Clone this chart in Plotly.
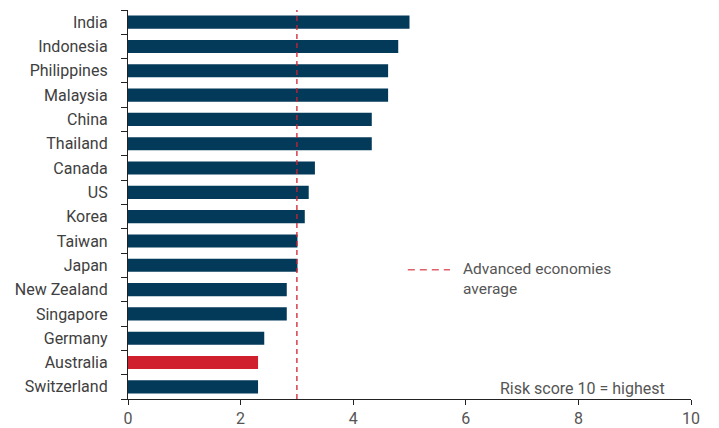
import plotly.graph_objects as go

countries = ["India", "Indonesia", "Philippines", "Malaysia", "China", "Thailand",
             "Canada", "US", "Korea", "Taiwan", "Japan", "New Zealand",
             "Singapore", "Germany", "Australia", "Switzerland"]
scores = [5.0, 4.8, 4.62, 4.62, 4.33, 4.33, 3.32, 3.21, 3.14, 3.01, 3.01,
          2.82, 2.82, 2.42, 2.31, 2.31]
highlight = "Australia"
advanced_avg = 3.0
x_ticks = [0, 2, 4, 6, 8, 10]
legend_text = "Advanced economies<br>average"
note = "Risk score 10 = highest"

NAVY = "#033a5a"
RED = "#d0202e"
colors = [RED if c == highlight else NAVY for c in countries]

fig = go.Figure()
fig.add_trace(go.Bar(
    x=scores, y=countries, orientation="h",
    marker=dict(color=colors, line=dict(width=0)),
    showlegend=False, hoverinfo="x+y",
))
fig.add_trace(go.Scatter(
    x=[advanced_avg, advanced_avg], y=[0, 1], yaxis="y2", mode="lines",
    line=dict(color=RED, width=1.3, dash="5px,4px"),
    name="Advanced economies average", showlegend=False,
))

font_family = "Roboto, 'DejaVu Sans', sans-serif"
TXT = "#404040"
GREY = "#555555"

# manual legend (paper coordinates)
lx0, lx1, ly = 0.497, 0.572, 0.332
fig.add_shape(type="line", xref="paper", yref="paper", x0=lx0, x1=lx1, y0=ly, y1=ly,
              line=dict(color="#e0606a", width=1.5, dash="7px,5px"))
annotations = [
    dict(text=legend_text, xref="paper", yref="paper", x=0.5915, y=ly + 0.03,
         xanchor="left", yanchor="top", align="left", showarrow=False,
         font=dict(size=15.5, color=GREY)),
    dict(text=note, xref="paper", yref="paper", x=0.958, y=0.026,
         xanchor="right", yanchor="middle", showarrow=False,
         font=dict(size=16, color=GREY)),
]

fig.update_layout(
    width=719, height=428,
    margin=dict(l=128, r=28, t=10, b=29, autoexpand=False),
    plot_bgcolor="white", paper_bgcolor="white",
    font=dict(family=font_family, size=16, color=TXT),
    bargap=0.46,
    xaxis=dict(range=[0, 10], tickvals=x_ticks, showgrid=False, zeroline=False,
               showline=True, linecolor="#222", linewidth=1.2,
               ticks="outside", ticklen=5, tickcolor="#222",
               tickfont=dict(size=16, color=GREY), ticklabelstandoff=0,
               automargin=False, fixedrange=True),
    yaxis=dict(categoryorder="array", categoryarray=countries[::-1],
               showgrid=False, zeroline=False, showline=True,
               linecolor="#222", linewidth=1.2, ticks="outside", ticklen=6,
               tickcolor="#222", tickson="boundaries", automargin=False,
               tickfont=dict(size=16, color=TXT), ticklabelstandoff=16),
    yaxis2=dict(range=[0, 1], overlaying="y", visible=False),
    showlegend=False,
    annotations=annotations,
)

fig.write_html("out.html")
